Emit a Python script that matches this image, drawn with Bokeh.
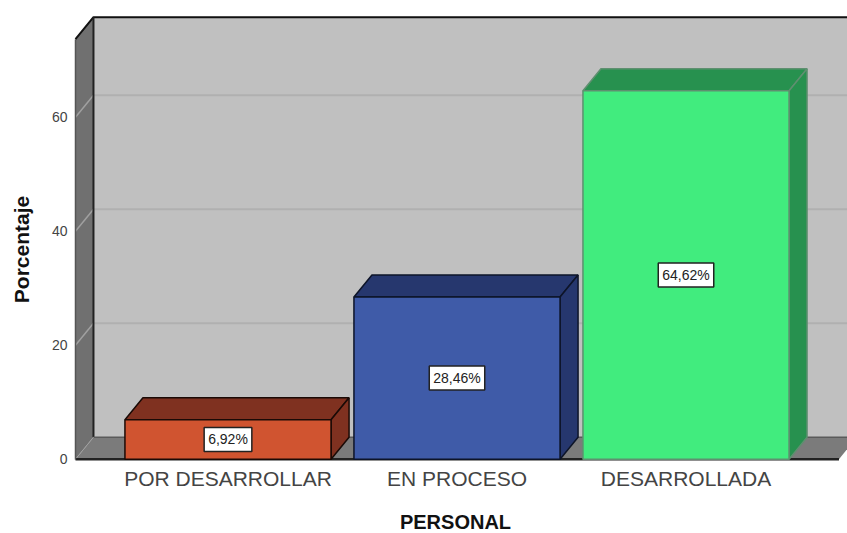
from math import pi
from bokeh.core.properties import value
from bokeh.embed import file_html
from bokeh.resources import INLINE
from bokeh.plotting import figure
from bokeh.models import ColumnDataSource, FixedTicker, Label, Range1d

categories = ["POR DESARROLLAR", "EN PROCESO", "DESARROLLADA"]
values = [6.92, 28.46, 64.62]
value_labels = ["6,92%", "28,46%", "64,62%"]
y_ticks = [0, 20, 40, 60]
front_colors = ["#D05430", "#3F5BA8", "#41EC7E"]
depth_colors = ["#7F3120", "#26376E", "#27914F"]
edge_colors = ["#1A0A06", "#0D1428", "#5F8F70"]
x_title = "PERSONAL"
y_title = "Porcentaje"

BAR_W = 0.9
DX, DY = 18 / 229, 22 / 5.7
XL, XR, YT = -0.666, 2.668, 73.68

p = figure(width=847, height=533, output_backend="svg", toolbar_location=None,
           x_range=Range1d(-0.9934, 2.7052), y_range=Range1d(-13.04, 80.47),
           min_border=0, outline_line_color=None,
           background_fill_color="white", border_fill_color="white")
p.styles = {"position": "absolute", "left": "0px", "top": "0px"}
p.grid.visible = False

# walls and floor
p.patch([XL + DX, XR + DX, XR + DX, XL + DX], [0 + DY, 0 + DY, YT + DY, YT + DY],
        fill_color="#C0C0C0", line_color=None)
p.patch([XL, XL + DX, XL + DX, XL], [0, DY, YT + DY, YT], fill_color="#707070", line_color=None)
p.patch([XL, XL + DX, XR + DX, XR], [0, DY, DY, 0], fill_color="#7B7B7B", line_color=None)

# gridlines
gy = y_ticks[1:]
p.multi_line([[XL + DX, XR + DX] for _ in gy], [[v + DY, v + DY] for v in gy],
             line_color="#B0B0B0", line_width=2)
p.multi_line([[XL, XL + DX] for _ in gy], [[v, v + DY] for v in gy],
             line_color="#A0A0A0", line_width=1.5)

# frame edges
p.line([XL, XL + DX, XR + DX], [YT, YT + DY, YT + DY], line_color="#111111", line_width=2)
p.line([XL + DX, XL + DX], [DY, YT + DY], line_color="#222222", line_width=2)
p.line([XL + DX, XR + DX], [DY, DY], line_color="#5A5A5A", line_width=1.5)
p.line([XL, XL + DX], [0, DY], line_color="#A0A0A0", line_width=1)
p.line([XL, XR], [0, 0], line_color="#222222", line_width=2.5)

# bars
for i, (v, fc, dc, ec) in enumerate(zip(values, front_colors, depth_colors, edge_colors)):
    a, b = i - BAR_W / 2, i + BAR_W / 2
    p.patch([a, b, b + DX, a + DX], [v, v, v + DY, v + DY], fill_color=dc, line_color=ec, line_width=1.5)
    p.patch([b, b + DX, b + DX, b], [0, DY, v + DY, v], fill_color=dc, line_color=ec, line_width=1.5)
    p.quad(left=[a], right=[b], bottom=[0], top=[v], fill_color=fc, line_color=ec, line_width=1.5)

src = ColumnDataSource(dict(x=list(range(3)), y=[v / 2 for v in values], t=value_labels))
p.text(x="x", y="y", text="t", source=src, text_align="center", text_baseline="middle",
       text_font=value("Liberation Sans"), text_font_size="14px", text_color="#222222",
       background_fill_color="white", border_line_color="#222222", border_line_width=1.5,
       padding=4)

# axes
p.yaxis.fixed_location = XL
p.yaxis.ticker = FixedTicker(ticks=y_ticks)
p.yaxis.bounds = (0, YT)
p.yaxis.axis_line_color = "#555555"
p.yaxis.axis_line_width = 1.5
p.yaxis.major_tick_line_color = None
p.yaxis.minor_tick_line_color = None
p.yaxis.major_label_text_font = "Liberation Sans"
p.yaxis.major_label_text_font_size = "14px"
p.yaxis.major_label_text_color = "#444444"
p.yaxis.major_label_standoff = 2

p.xaxis.fixed_location = 0
p.xaxis.ticker = FixedTicker(ticks=[0, 1, 2])
p.xaxis.major_label_overrides = {i: c for i, c in enumerate(categories)}
p.xaxis.axis_line_color = None
p.xaxis.major_tick_line_color = None
p.xaxis.minor_tick_line_color = None
p.xaxis.major_label_text_font = "Liberation Sans"
p.xaxis.major_label_text_font_size = "21px"
p.xaxis.major_label_text_color = "#444444"
p.xaxis.major_label_standoff = 2

p.add_layout(Label(x=455, y=533 - 521, x_units="screen", y_units="screen", text=x_title,
                   text_align="center", text_baseline="middle", text_font="Liberation Sans",
                   text_font_style="bold", text_font_size="20px", text_color="#111111"))
p.add_layout(Label(x=21, y=533 - 249, x_units="screen", y_units="screen", text=y_title, angle=pi / 2,
                   text_align="center", text_baseline="middle", text_font="Liberation Sans",
                   text_font_style="bold", text_font_size="21px", text_color="#111111"))

open("out.html", "w").write(file_html(p, INLINE))
